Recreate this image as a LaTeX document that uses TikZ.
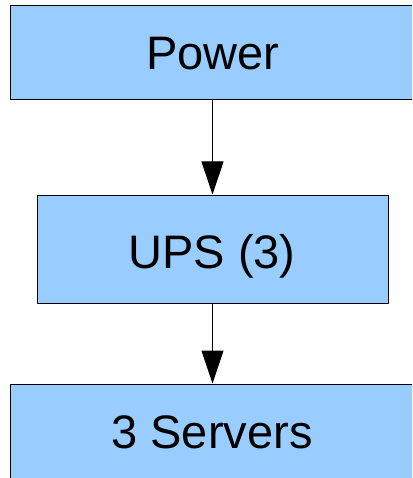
\documentclass[tikz,border=0pt]{standalone}
\usepackage{fontspec}
\setmainfont{Liberation Sans}
\usetikzlibrary{arrows.meta}
\definecolor{boxblue}{HTML}{99CCFF}
\begin{document}
\begin{tikzpicture}[x=1pt,y=-1pt,
  box/.style={draw=black,fill=boxblue,line width=1pt,rectangle,inner sep=0pt},
  lbl/.style={font=\fontsize{47}{56}\selectfont,inner sep=0pt,text height=33.7pt,text depth=0pt},
  conn/.style={line width=1pt,-{Triangle[width=22pt,length=33pt]}}]
\useasboundingbox (0,0) rectangle (412,478);
\clip (0,0) rectangle (412,478);
\node[box,minimum width=420pt,minimum height=94pt] (power) at (220,53) {};
\node[box,minimum width=351pt,minimum height=108pt] (ups) at (212.5,249) {};
\node[box,minimum width=420pt,minimum height=120pt] (servers) at (220,444) {};
\node[lbl] (tpower) at (213,53) {Power};
\node[lbl] (tups) at (212,252) {UPS (3)};
\node[lbl] (tservers) at (212,432) {3 Servers};
\draw[conn] (ups.north |- power.south) -- (ups.north);
\draw[conn] (ups.south) -- (ups.south |- servers.north);
\end{tikzpicture}
\end{document}
